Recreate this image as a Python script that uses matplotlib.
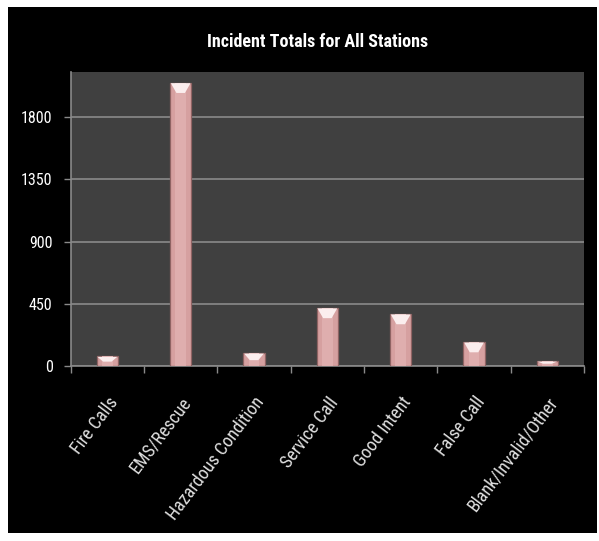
import matplotlib.pyplot as plt
from matplotlib import font_manager
from matplotlib.patches import Rectangle

# =========================
# Data
# =========================

categories = ["Fire Calls", "EMS/Rescue", "Hazardous Condition", "Service Call",
              "Good Intent", "False Call", "Blank/Invalid/Other"]
incidents = [70, 2050, 94, 421, 377, 174, 36]
y_ticks = [0, 450, 900, 1350, 1800]

# Calibri-like font if available
names = {f.name for f in font_manager.fontManager.ttflist}
font = "DejaVu Sans"
for cand in ["Liberation Sans Narrow", "Roboto Condensed", "Lato"]:
    if cand in names:
        font = cand
        break
plt.rcParams["font.family"] = [font, "DejaVu Sans"]

fig = plt.figure(figsize=(5.99, 5.41), dpi=100, facecolor="white")
fig.patches.append(Rectangle((8 / 599, 1 - 533 / 541), 589 / 599, 526 / 541,
                             transform=fig.transFigure, facecolor="black",
                             edgecolor="none", zorder=-10))

ax = fig.add_axes([0.118, 0.3235, 0.857, 0.543])
ax.set_facecolor("#404040")

x = list(range(len(categories)))
bar_w = 0.29
ax.bar(x, incidents, width=bar_w, color="#d6a0a0", edgecolor="#8f6363",
       linewidth=0.9, zorder=3)
# lighter centre strip for a rounded look
ax.bar(x, incidents, width=bar_w * 0.5, color="#dfaeae", edgecolor="none",
       zorder=3.5)

# bevel highlight on the top of each bar
for xi, v in zip(x, incidents):
    cap = min(75, 0.55 * v)
    ax.fill([xi - bar_w / 2 + 0.01, xi + bar_w / 2 - 0.01, xi + bar_w / 5, xi - bar_w / 5],
            [v - 4, v - 4, v - cap, v - cap], color="#fbeeee", zorder=4, linewidth=0)

ax.set_xlim(-0.5, len(categories) - 0.5)
ax.set_ylim(0, 2125)
ax.set_yticks(y_ticks)
ax.set_yticklabels([str(t) for t in y_ticks], color="white", fontsize=11.5)
ax.yaxis.grid(True, color="#8a8a8a", linewidth=1.2, zorder=1)
ax.set_axisbelow(True)

ax.set_xticks(x)
ax.set_xticklabels(categories, rotation=53, ha="right", rotation_mode="anchor",
                   color="#e0e0e0", fontsize=13)
ax.tick_params(axis="x", length=0, pad=20)
ax.set_xticks([i - 0.5 for i in range(len(categories) + 1)], minor=True)
ax.tick_params(axis="x", which="minor", length=5, color="#8a8a8a", width=1)
ax.tick_params(axis="y", length=5, color="#8a8a8a", width=1, pad=8)

for side in ["top", "right"]:
    ax.spines[side].set_visible(False)
ax.spines["left"].set_color("#8a8a8a")
ax.spines["bottom"].set_color("#8a8a8a")
ax.spines["left"].set_linewidth(1.2)
ax.spines["bottom"].set_linewidth(1.2)

fig.text(0.53, 1 - 42 / 541, "Incident Totals for All Stations", color="white",
         fontsize=13, fontweight="bold", ha="center", va="center")

fig.savefig("out.png", dpi=100, facecolor="white")
